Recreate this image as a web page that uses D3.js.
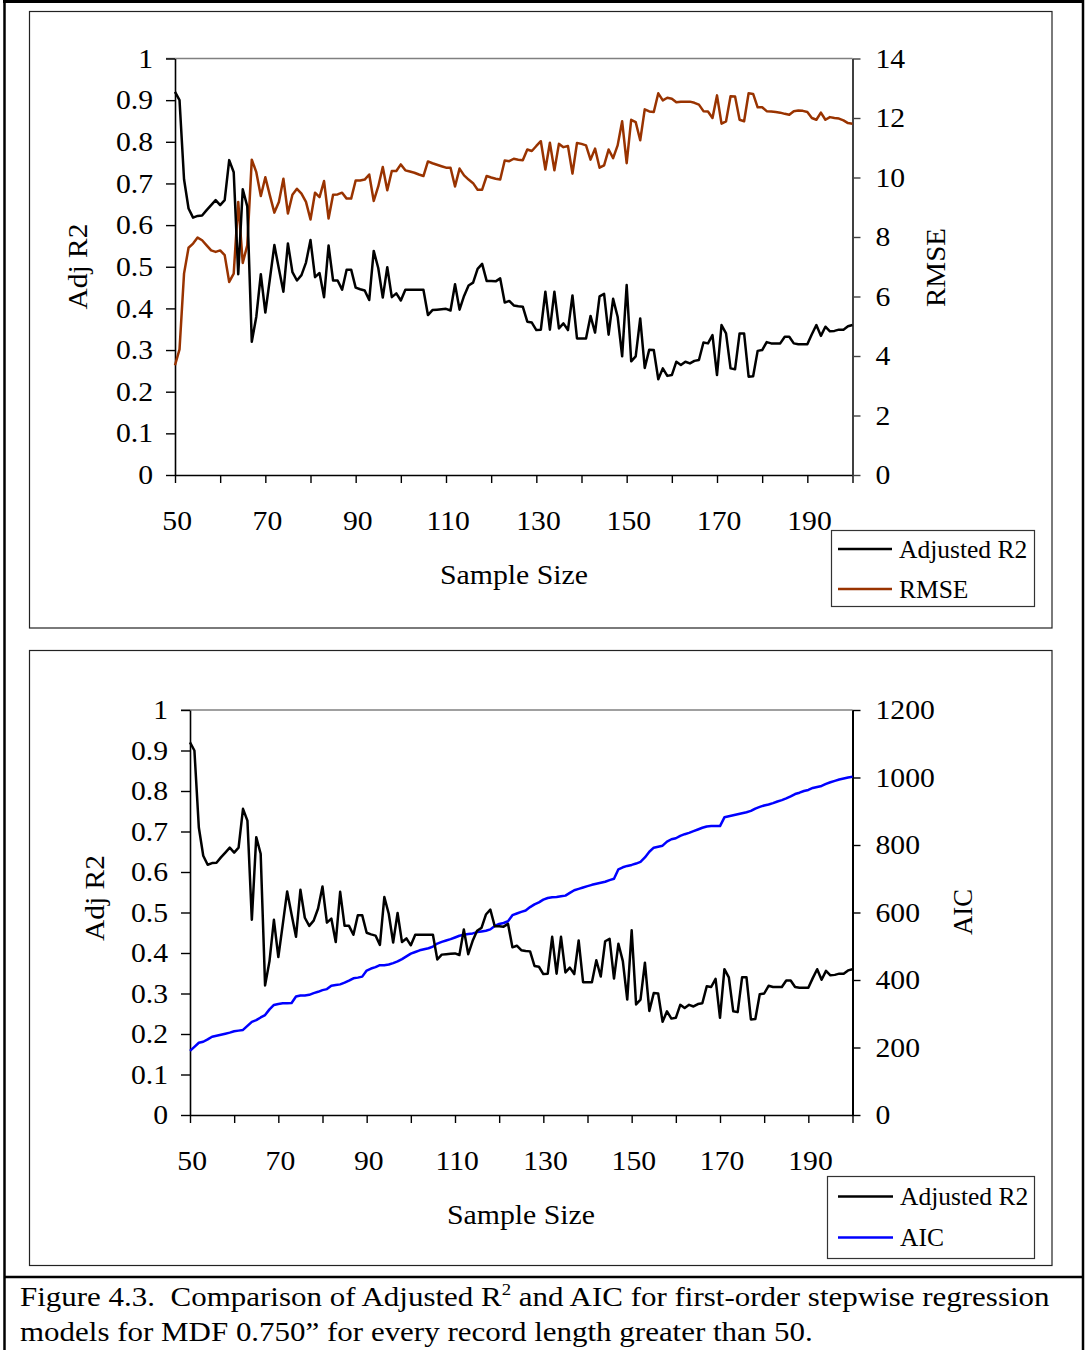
<!DOCTYPE html>
<html>
<head>
<meta charset="utf-8">
<script src="https://cdn.jsdelivr.net/npm/d3@7"></script>
<style>
  html, body { margin: 0; padding: 0; background: #fff; }
  svg text { font-family: "Liberation Serif", "Times New Roman", serif; fill: #000; }
</style>
</head>
<body>
<svg id="fig" width="1086" height="1350"></svg>
<script>
// Record length (sample size) for every model, 50 .. 200
const sampleSize = d3.range(50, 201);

// Adjusted R2 of the first-order stepwise models, n = 50 .. 200
const adjR2 = [
  0.92, 0.90, 0.71, 0.64, 0.618, 0.622, 0.623, 0.636, 0.648, 0.66,
  0.648, 0.66, 0.756, 0.727, 0.482, 0.686, 0.645, 0.32, 0.38, 0.482,
  0.39, 0.47, 0.552, 0.495, 0.44, 0.556, 0.487, 0.467, 0.48, 0.51,
  0.564, 0.475, 0.485, 0.427, 0.551, 0.467, 0.467, 0.445, 0.493, 0.493,
  0.45, 0.446, 0.443, 0.42, 0.538, 0.497, 0.426, 0.499, 0.427, 0.436,
  0.419, 0.445, 0.445, 0.445, 0.445, 0.445, 0.384, 0.396, 0.397, 0.398,
  0.399, 0.395, 0.458, 0.397, 0.43, 0.455, 0.462, 0.495, 0.507, 0.466,
  0.466, 0.465, 0.472, 0.414, 0.418, 0.407, 0.405, 0.404, 0.368, 0.366,
  0.348, 0.349, 0.44, 0.349, 0.44, 0.352, 0.364, 0.348, 0.431, 0.328,
  0.328, 0.328, 0.382, 0.342, 0.429, 0.435, 0.337, 0.423, 0.38, 0.285,
  0.456, 0.273, 0.285, 0.376, 0.257, 0.301, 0.30, 0.23, 0.256, 0.238,
  0.24, 0.272, 0.264, 0.272, 0.268, 0.274, 0.276, 0.318, 0.316, 0.336,
  0.24, 0.36, 0.34, 0.256, 0.254, 0.34, 0.34, 0.236, 0.237, 0.298,
  0.30, 0.319, 0.316, 0.316, 0.316, 0.332, 0.332, 0.316, 0.314, 0.314,
  0.314, 0.338, 0.36, 0.334, 0.356, 0.345, 0.346, 0.349, 0.349, 0.357,
  0.36
];

// RMSE of the same models
const rmse = [
  3.69, 4.22, 6.77, 7.64, 7.78, 7.98, 7.89, 7.72, 7.55, 7.50,
  7.55, 7.39, 6.49, 6.77, 9.18, 7.13, 7.72, 10.6, 10.18, 9.38,
  10.01, 9.40, 8.82, 9.18, 9.96, 8.79, 9.42, 9.62, 9.46, 9.18,
  8.59, 9.49, 9.34, 9.88, 8.62, 9.42, 9.43, 9.49, 9.29, 9.29,
  9.90, 9.90, 9.93, 10.1, 9.21, 9.70, 10.35, 9.57, 10.22, 10.22,
  10.44, 10.24, 10.2, 10.16, 10.1, 10.05, 10.54, 10.48, 10.43, 10.38,
  10.33, 10.33, 9.70, 10.3, 10.07, 9.93, 9.81, 9.59, 9.59, 10.05,
  10.0, 9.96, 9.93, 10.57, 10.55, 10.63, 10.6, 10.58, 10.94, 10.89,
  11.06, 11.22, 10.27, 11.17, 10.24, 11.13, 11.02, 11.06, 10.13, 11.16,
  11.13, 11.08, 10.6, 10.97, 10.33, 10.41, 10.94, 10.65, 11.08, 11.89,
  10.48, 11.94, 11.86, 11.25, 12.29, 12.22, 12.2, 12.83, 12.59, 12.68,
  12.65, 12.53, 12.55, 12.55, 12.55, 12.51, 12.45, 12.23, 12.22, 12.0,
  12.76, 11.81, 11.89, 12.73, 12.72, 11.94, 11.89, 12.83, 12.81, 12.36,
  12.36, 12.23, 12.22, 12.2, 12.18, 12.14, 12.11, 12.23, 12.25, 12.24,
  12.2, 12.0, 11.94, 12.18, 11.94, 12.03, 12.0, 11.98, 11.92, 11.83,
  11.81
];

// AIC of the same models
const aic = [
  190, 202, 214, 217, 224, 232, 235, 238, 241, 244,
  248, 250, 252, 264, 276, 281, 289, 296, 313, 326,
  329, 331, 331, 332, 351, 354, 354, 356, 361, 365,
  370, 373, 383, 385, 387, 392, 398, 405, 407, 410,
  428, 434, 438, 444, 444, 446, 450, 455, 462, 470,
  478, 483, 488, 491, 494, 499, 508, 513, 517, 521,
  526, 531, 534, 536, 538, 542, 544, 546, 550, 560,
  566, 569, 574, 592, 597, 602, 606, 616, 624, 630,
  638, 643, 645, 646, 648, 650, 658, 666, 670, 674,
  678, 682, 685, 688, 691, 696, 700, 728, 734, 738,
  741, 745, 750, 763, 780, 792, 795, 798, 810, 817,
  820, 827, 832, 836, 841, 846, 851, 855, 856, 856,
  856, 882, 885, 888, 891, 894, 897, 901, 908, 913,
  917, 920, 924, 929, 933, 938, 944, 951, 955, 960,
  963, 969, 972, 975, 981, 986, 990, 994, 997, 1000,
  1002
];

// Axis ticks and labels
const xTickValues = [50, 60, 70, 80, 90, 100, 110, 120, 130, 140, 150, 160, 170, 180, 190, 200];
const xTickLabels = [50, 70, 90, 110, 130, 150, 170, 190];
const r2Ticks = [0, 0.1, 0.2, 0.3, 0.4, 0.5, 0.6, 0.7, 0.8, 0.9, 1];
const rmseTicks = [0, 2, 4, 6, 8, 10, 12, 14];
const aicTicks = [0, 200, 400, 600, 800, 1000, 1200];

const svg = d3.select("#fig");
const TICK_FONT = 27;

// widen glyphs a little along the text direction (old-style serif proportions)
function widen(sel, factor) {
  sel.each(function () {
    const w = this.getComputedTextLength();
    if (w > 0) {
      d3.select(this).attr("textLength", w * factor).attr("lengthAdjust", "spacingAndGlyphs");
    }
  });
}
function fitTo(sel, width) {
  sel.attr("textLength", width).attr("lengthAdjust", "spacingAndGlyphs");
}

// Page frame and caption separator
const frame = svg.append("g").attr("stroke", "#000").attr("fill", "none");
frame.append("line").attr("x1", 3).attr("x2", 1084).attr("y1", 1.5).attr("y2", 1.5).attr("stroke-width", 3);
frame.append("line").attr("x1", 4.5).attr("x2", 4.5).attr("y1", 0).attr("y2", 1350).attr("stroke-width", 2.5);
frame.append("line").attr("x1", 1083).attr("x2", 1083).attr("y1", 0).attr("y2", 1350).attr("stroke-width", 2.5);
frame.append("line").attr("x1", 4).attr("x2", 1084).attr("y1", 1277).attr("y2", 1277).attr("stroke-width", 2.5);

function drawPanel(cfg) {
  const g = svg.append("g");

  // chart area border
  g.append("rect")
    .attr("x", cfg.box[0]).attr("y", cfg.box[1])
    .attr("width", cfg.box[2]).attr("height", cfg.box[3])
    .attr("fill", "none").attr("stroke", "#222").attr("stroke-width", 1.2);

  const x = d3.scaleLinear().domain([50, 200]).range([cfg.left, cfg.right]);
  const yL = d3.scaleLinear().domain([0, 1]).range([cfg.bottom, cfg.top]);
  const yR = d3.scaleLinear().domain(cfg.rightDomain).range([cfg.bottom, cfg.top]);

  // plot-area top edge
  g.append("line")
    .attr("x1", cfg.left - 9).attr("x2", cfg.right)
    .attr("y1", cfg.top).attr("y2", cfg.top)
    .attr("stroke", "#808080").attr("stroke-width", 1.6);

  // x axis
  const xAxis = d3.axisBottom(x)
    .tickValues(xTickValues)
    .tickFormat(d => xTickLabels.includes(d) ? String(d) : "")
    .tickSize(8).tickPadding(cfg.xPad).tickSizeOuter(0);
  const gx = g.append("g").attr("transform", `translate(0,${cfg.bottom})`).call(xAxis);
  gx.selectAll("text").attr("font-size", TICK_FONT).attr("dx", "0.06em");

  // left axis (Adj R2)
  const leftAxis = d3.axisLeft(yL)
    .tickValues(r2Ticks)
    .tickFormat(d => d === 0 ? "0" : d === 1 ? "1" : d3.format(".1f")(d))
    .tickSize(9).tickPadding(cfg.leftPad).tickSizeOuter(0);
  const gl = g.append("g").attr("transform", `translate(${cfg.left},0)`).call(leftAxis);
  gl.selectAll("text").attr("font-size", TICK_FONT);

  // right axis
  const rightAxis = d3.axisRight(yR)
    .tickValues(cfg.rightTicks)
    .tickFormat(d => String(d))
    .tickSize(8).tickPadding(15).tickSizeOuter(0);
  const gr = g.append("g").attr("transform", `translate(${cfg.right},0)`).call(rightAxis);
  gr.selectAll("text").attr("font-size", TICK_FONT);
  gr.select(".domain").attr("stroke", cfg.rightAxisColor).attr("stroke-width", 2);
  gr.selectAll(".tick line").attr("stroke", cfg.rightAxisColor).attr("stroke-width", 1.4);

  [gx, gl].forEach(a => {
    a.select(".domain").attr("stroke", "#000").attr("stroke-width", 1.6);
    a.selectAll(".tick line").attr("stroke", "#000").attr("stroke-width", 1.4);
  });
  [gx, gl, gr].forEach(a => widen(a.selectAll("text"), 1.1));

  // series
  const r2Line = d3.line().x((d, i) => x(sampleSize[i])).y(d => yL(d));
  const rightLine = d3.line().x((d, i) => x(sampleSize[i])).y(d => yR(d));

  g.append("path").datum(cfg.rightData)
    .attr("d", rightLine).attr("fill", "none")
    .attr("stroke", cfg.rightColor).attr("stroke-width", 2.5).attr("stroke-linejoin", "round");
  g.append("path").datum(adjR2)
    .attr("d", r2Line).attr("fill", "none")
    .attr("stroke", "#000").attr("stroke-width", 2.5).attr("stroke-linejoin", "round");

  // axis titles
  fitTo(g.append("text").attr("x", cfg.xTitle[0]).attr("y", cfg.xTitle[1])
    .attr("text-anchor", "middle").attr("font-size", 28).text("Sample Size"), 148);
  fitTo(g.append("text").attr("transform", `translate(${cfg.leftTitle[0]},${cfg.leftTitle[1]}) rotate(-90)`)
    .attr("text-anchor", "middle").attr("font-size", 28).text("Adj R2"), 86);
  fitTo(g.append("text").attr("transform", `translate(${cfg.rightTitle[0]},${cfg.rightTitle[1]}) rotate(-90)`)
    .attr("text-anchor", "middle").attr("font-size", 28).text(cfg.rightName), cfg.rightTitleWidth);

  // legend
  const lg = g.append("g");
  lg.append("rect")
    .attr("x", cfg.legend[0]).attr("y", cfg.legend[1])
    .attr("width", cfg.legend[2]).attr("height", cfg.legend[3])
    .attr("fill", "#fff").attr("stroke", "#333").attr("stroke-width", 1.2);
  const items = [
    { name: "Adjusted R2", color: "#000" },
    { name: cfg.rightName, color: cfg.rightColor }
  ];
  items.forEach((it, i) => {
    const cy = cfg.legendRows[i];
    lg.append("line")
      .attr("x1", cfg.legendLine[0]).attr("x2", cfg.legendLine[1])
      .attr("y1", cy).attr("y2", cy)
      .attr("stroke", it.color).attr("stroke-width", 2.5);
    lg.append("text")
      .attr("x", cfg.legendText).attr("y", cy + 8.5)
      .attr("font-size", 25.5).text(it.name);
  });
}

drawPanel({
  box: [29.5, 11.5, 1022.5, 616.5],
  left: 175, right: 852.5, top: 58.5, bottom: 475,
  rightDomain: [0, 14], rightTicks: rmseTicks,
  rightData: rmse, rightColor: "#993300", rightName: "RMSE",
  rightAxisColor: "#404040", rightTitleWidth: 79,
  xPad: 28, leftPad: 13,
  xTitle: [514, 584], leftTitle: [87, 266.5], rightTitle: [945, 267.5],
  legend: [831.5, 530.5, 203, 76], legendRows: [549, 589],
  legendLine: [838, 892], legendText: 899
});

drawPanel({
  box: [29.5, 650.5, 1022.5, 615],
  left: 190, right: 852.5, top: 710, bottom: 1115,
  rightDomain: [0, 1200], rightTicks: aicTicks,
  rightData: aic, rightColor: "#0000ff", rightName: "AIC",
  rightAxisColor: "#000", rightTitleWidth: 46,
  xPad: 28, leftPad: 13,
  xTitle: [521, 1224], leftTitle: [104, 898], rightTitle: [972, 912],
  legend: [827.5, 1176.5, 207, 82], legendRows: [1196.5, 1237.5],
  legendLine: [838, 893], legendText: 900
});

// Figure caption, widened to the column width
const cap = svg.append("g");
function captionLine(y, build, width) {
  const t = cap.append("text").attr("x", 0).attr("y", 0).attr("font-size", 28);
  build(t);
  const w = t.node().getBBox().width;
  t.attr("transform", `translate(20,${y}) scale(${width / w},1)`);
}
captionLine(1306, t => {
  t.append("tspan").text("Figure 4.3.\u00a0 Comparison of Adjusted R");
  t.append("tspan").attr("font-size", 17).attr("dy", -11).text("2");
  t.append("tspan").attr("dy", 11).text(" and AIC for first-order stepwise regression");
}, 1030);
captionLine(1341, t => {
  t.text("models for MDF 0.750\u201d for every record length greater than 50.");
}, 793);
</script>
</body>
</html>
